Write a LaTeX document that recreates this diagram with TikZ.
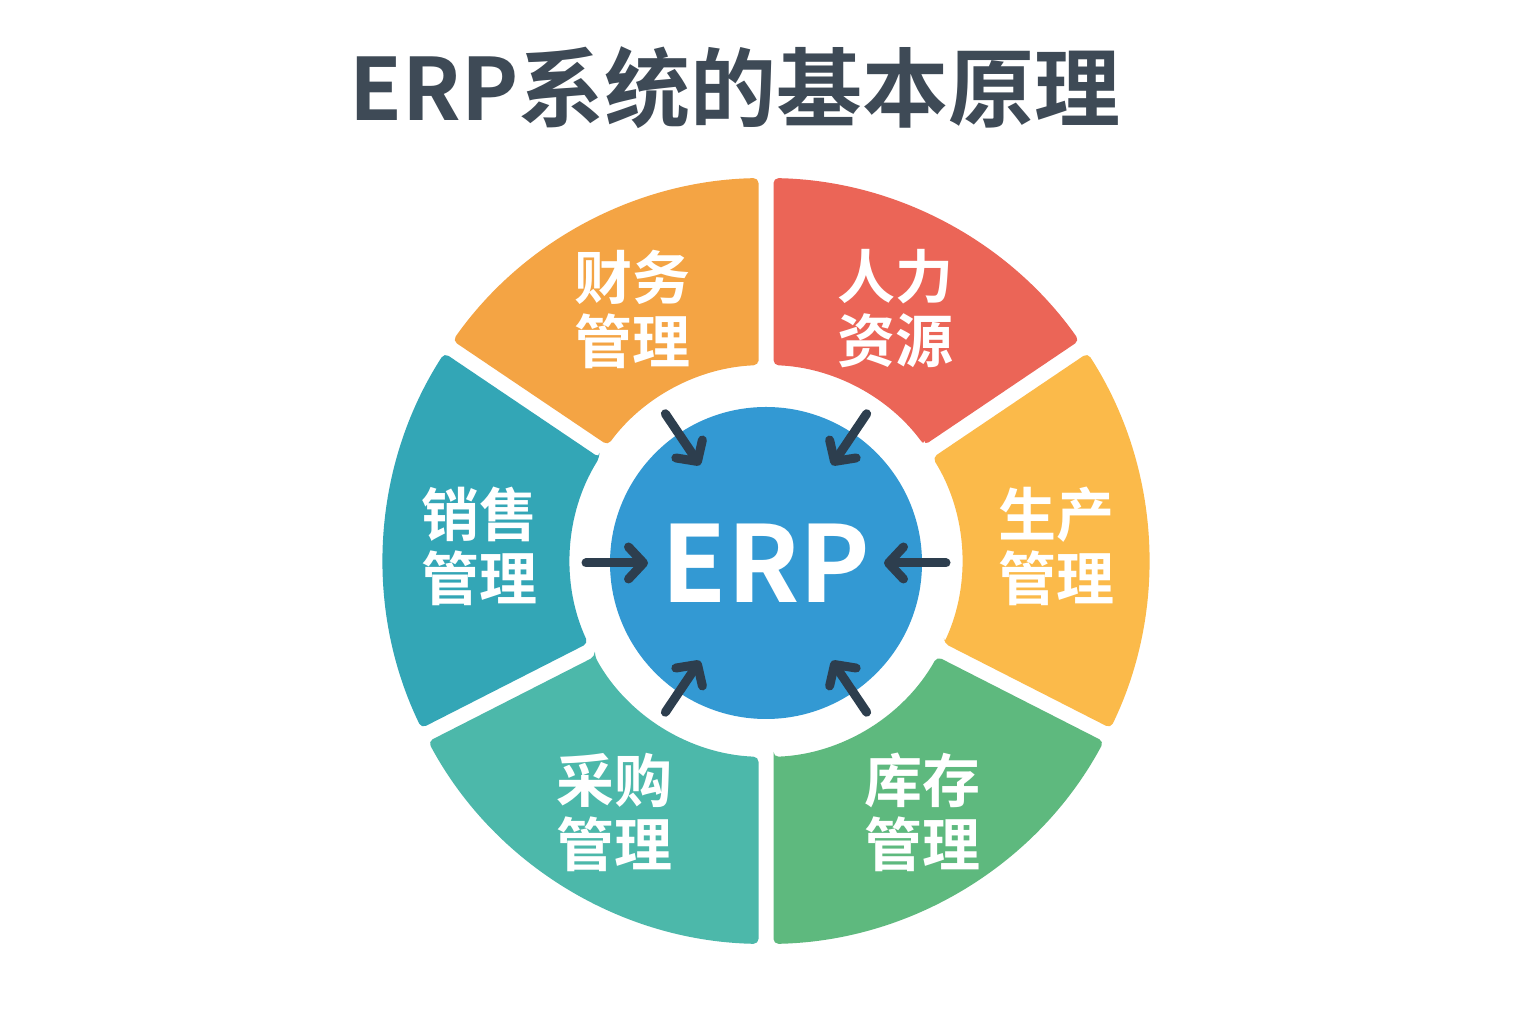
\documentclass[tikz,border=0pt]{standalone}
\usepackage{fontspec}
\newfontfamily\cjk{Noto Sans CJK SC}[BoldFont={Noto Sans CJK SC Bold}]
\usetikzlibrary{arrows.meta,positioning}
\definecolor{ink}{HTML}{3E4A56}
\definecolor{arrowc}{HTML}{2D3E4E}
\definecolor{cerp}{HTML}{3399D3}
\definecolor{cfin}{HTML}{F4A444}
\definecolor{chr}{HTML}{EB6557}
\definecolor{cprod}{HTML}{FBBA4A}
\definecolor{cinv}{HTML}{5EB97E}
\definecolor{cpur}{HTML}{4CB8AA}
\definecolor{csal}{HTML}{33A6B6}

\begin{document}
\begin{tikzpicture}[x=1pt,y=1pt,
  sector/.style={rounded corners=5pt},
  lbl/.style={text=white,font=\cjk\bfseries\fontsize{58}{64}\selectfont,align=center,inner sep=0pt},
  arrow/.style={-{Straight Barb[length=15pt,width=32pt,round]},line width=9pt,line cap=round,draw=arrowc}
]
  \fill[white] (0,0) rectangle (1536,1024);
  \useasboundingbox (0,0) rectangle (1536,1024);

  \node[text=ink,font=\cjk\bfseries\fontsize{86}{90}\selectfont,inner sep=0pt] (title) at (735,936) {ERP系统的基本原理};

  % ring of modules
  \coordinate (c) at (766,463);
  \begin{scope}[shift={(c)}]
    \foreach \a/\b/\col in {90/146/cfin,34/90/chr,-27/34/cprod,-90/-27/cinv,-153/-90/cpur,146/207/csal}{
      \pgfmathsetmacro\ai{\a+asin(7.5/196)}
      \pgfmathsetmacro\ao{\a+asin(7.5/383)}
      \pgfmathsetmacro\bi{\b-asin(7.5/196)}
      \pgfmathsetmacro\bo{\b-asin(7.5/383)}
      \fill[\col,sector] (\ai:196pt) -- (\ao:383pt)
        arc[start angle=\ao,end angle=\bo,radius=383pt] -- (\bi:196pt)
        arc[start angle=\bi,end angle=\ai,radius=196pt] -- cycle;
    }
  \end{scope}

  \node[lbl] (fin)  at (632,715) {财务\\管理};
  \node[lbl] (hr)   at (895,715) {人力\\资源};
  \node[lbl] (prod) at (1056,478) {生产\\管理};
  \node[lbl] (inv)  at (922,212) {库存\\管理};
  \node[lbl] (pur)  at (614,212) {采购\\管理};
  \node[lbl] (sal)  at (479,478) {销售\\管理};

  % core
  \node[circle,fill=cerp,minimum size=312pt,inner sep=0pt,text=white,
        font=\cjk\bfseries\fontsize{106}{110}\selectfont] (erp) at (766,461) {ERP};

  \begin{scope}[shift={(erp.center)}]
    \foreach \ang [count=\i] in {0,56,124,180,236,304}{
      \coordinate (t\i) at (\ang:180pt);
      \coordinate (h\i) at (\ang:118pt);
      \draw[arrow] (t\i) -- (h\i);
    }
  \end{scope}
\end{tikzpicture}
\end{document}
